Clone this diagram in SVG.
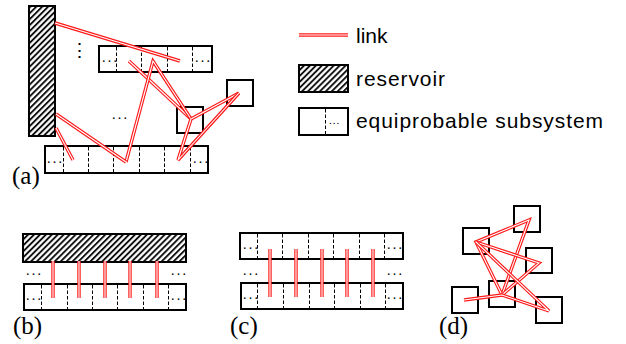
<svg xmlns="http://www.w3.org/2000/svg" xmlns:xlink="http://www.w3.org/1999/xlink" width="626" height="344" viewBox="0 0 626 344">
<style>
.box{fill:#fff;stroke:#000;stroke-width:2}
.res{fill:url(#hatch);stroke:#000;stroke-width:2}
.div{stroke:#000;stroke-width:1;stroke-dasharray:3.5,2;fill:none}
.lo{fill:none;stroke:#ff1a1a;stroke-width:3.4;stroke-linejoin:miter}
.li{fill:none;stroke:#fff;stroke-width:1.1;stroke-linejoin:miter}
.dots{font-family:"Liberation Serif",serif;font-size:14px;letter-spacing:2.2px;fill:#000}
.lbl{font-family:"Liberation Serif",serif;font-size:25px;fill:#000}
.leg{font-family:"Liberation Sans",Arial,sans-serif;font-size:21px;fill:#000}
</style>
<defs>
<pattern id="hatch" patternUnits="userSpaceOnUse" width="4.2" height="4.2" patternTransform="rotate(45)">
<rect width="4.2" height="4.2" fill="#fff"/>
<line x1="1" y1="0" x2="1" y2="4.2" stroke="#000" stroke-width="1.8"/>
</pattern>
</defs>

<!-- (a) -->
<g id="a-reservoir"><rect class="res" x="29" y="6" width="26" height="130"/></g>
<g id="a-sub-top">
<rect class="box" x="99" y="46" width="113" height="26"/>
<path class="div" d="M116.5 47V71M141.5 47V71M167.5 47V71M192.5 47V71"/>
<text class="dots" x="102" y="62">...</text>
<text class="dots" x="195" y="62">...</text>
</g>
<g id="a-box1"><rect class="box" x="177" y="107" width="26" height="26"/></g>
<g id="a-box2"><rect class="box" x="227" y="80" width="26" height="26"/></g>
<g id="a-sub-bottom">
<rect class="box" x="45" y="146" width="163" height="27"/>
<path class="div" d="M63.5 147V172M88.5 147V172M113.5 147V172M139.5 147V172M164.5 147V172M190.5 147V172"/>
<text class="dots" x="47" y="163">...</text>
<text class="dots" x="193" y="163">...</text>
</g>
<text x="70" y="57" style="font-family:'DejaVu Sans',sans-serif;font-size:19px;font-weight:200;fill:#000">⋮</text>
<text class="dots" x="112" y="119">...</text>
<text class="lbl" x="12" y="184">(a)</text>

<!-- legend -->
<g id="legend-link">
<line class="lo" x1="299" y1="35" x2="348" y2="35"/>
<line class="li" x1="299" y1="35" x2="348" y2="35"/>
<text class="leg" x="356" y="43">link</text>
</g>
<g id="legend-reservoir">
<rect class="res" x="299" y="65" width="49" height="27"/>
<text class="leg" x="356" y="86" textLength="89" lengthAdjust="spacing">reservoir</text>
</g>
<g id="legend-subsystem">
<rect class="box" x="299" y="108" width="49" height="27"/>
<path class="div" d="M325.5 109V134"/>
<text class="dots" x="329" y="124" style="font-size:11px;letter-spacing:1px">...</text>
<text class="leg" x="356" y="128" textLength="247" lengthAdjust="spacing">equiprobable subsystem</text>
</g>

<!-- (b) -->
<g id="b-reservoir"><rect class="res" x="23" y="234" width="163" height="28"/></g>
<g id="b-sub">
<rect class="box" x="24" y="284" width="162" height="26"/>
<path class="div" d="M41.5 285V309M67.5 285V309M92.5 285V309M117.5 285V309M143.5 285V309M168.5 285V309"/>
<text class="dots" x="26" y="300">...</text>
<text class="dots" x="171" y="300">...</text>
</g>
<text class="dots" x="26" y="275">...</text>
<text class="dots" x="171" y="275">...</text>
<text class="lbl" x="13" y="334">(b)</text>

<!-- (c) -->
<g id="c-sub-top">
<rect class="box" x="240" y="233" width="163" height="26"/>
<path class="div" d="M257.5 234V258M282.5 234V258M308.5 234V258M333.5 234V258M359.5 234V258M384.5 234V258"/>
<text class="dots" x="243" y="249">...</text>
<text class="dots" x="387" y="249">...</text>
</g>
<g id="c-sub-bottom">
<rect class="box" x="241" y="283" width="162" height="26"/>
<path class="div" d="M257.5 284V308M283.5 284V308M309.5 284V308M334.5 284V308M360.5 284V308M385.5 284V308"/>
<text class="dots" x="243" y="299">...</text>
<text class="dots" x="387" y="299">...</text>
</g>
<text class="dots" x="243" y="275">...</text>
<text class="dots" x="387" y="275">...</text>
<text class="lbl" x="230" y="334">(c)</text>

<!-- (d) -->
<g id="d-boxA"><rect class="box" x="514" y="206" width="26" height="26"/></g>
<g id="d-boxB"><rect class="box" x="463" y="228" width="26" height="26"/></g>
<g id="d-boxC"><rect class="box" x="526" y="248" width="26" height="25"/></g>
<g id="d-boxD"><rect class="box" x="489" y="281" width="26" height="26"/></g>
<g id="d-boxE"><rect class="box" x="452" y="287" width="26" height="26"/></g>
<g id="d-boxF"><rect class="box" x="536" y="297" width="26" height="26"/></g>
<text class="lbl" x="439" y="334">(d)</text>

<!-- connectors -->
<g id="connectors">
<defs>
<path id="k1" d="M55 23L180 61"/>
<path id="k2" d="M129 61L191 119"/>
<path id="k3" d="M126 162L153 61L191 119"/>
<path id="k4" d="M56 114L126 162"/>
<path id="k5" d="M56 128L73 160"/>
<path id="k6" d="M191 119L239 93"/>
<path id="k7" d="M191 119L178 160L239 93"/>
<path id="kb" d="M53 261V298M79 261V298M105 261V298M130 261V298M157 261V298"/>
<path id="kc" d="M270 249V297M296 249V297M322 249V297M347 249V297M373 249V297"/>
<path id="d1" d="M502 295L476 242L529 220L502 295"/>
<path id="d2" d="M476 242L539 263L502 295"/>
<path id="d3" d="M476 242L549 311L502 295L464 300"/>
</defs>
<use xlink:href="#k1" class="lo"/><use xlink:href="#k1" class="li"/>
<use xlink:href="#k2" class="lo"/><use xlink:href="#k2" class="li"/>
<use xlink:href="#k3" class="lo"/><use xlink:href="#k3" class="li"/>
<use xlink:href="#k4" class="lo"/><use xlink:href="#k4" class="li"/>
<use xlink:href="#k5" class="lo"/><use xlink:href="#k5" class="li"/>
<use xlink:href="#k6" class="lo"/><use xlink:href="#k6" class="li"/>
<use xlink:href="#k7" class="lo"/><use xlink:href="#k7" class="li"/>
<use xlink:href="#kb" class="lo"/><use xlink:href="#kb" class="li"/>
<use xlink:href="#kc" class="lo"/><use xlink:href="#kc" class="li"/>
<use xlink:href="#d1" class="lo"/><use xlink:href="#d1" class="li"/>
<use xlink:href="#d2" class="lo"/><use xlink:href="#d2" class="li"/>
<use xlink:href="#d3" class="lo"/><use xlink:href="#d3" class="li"/>
</g>
</svg>
